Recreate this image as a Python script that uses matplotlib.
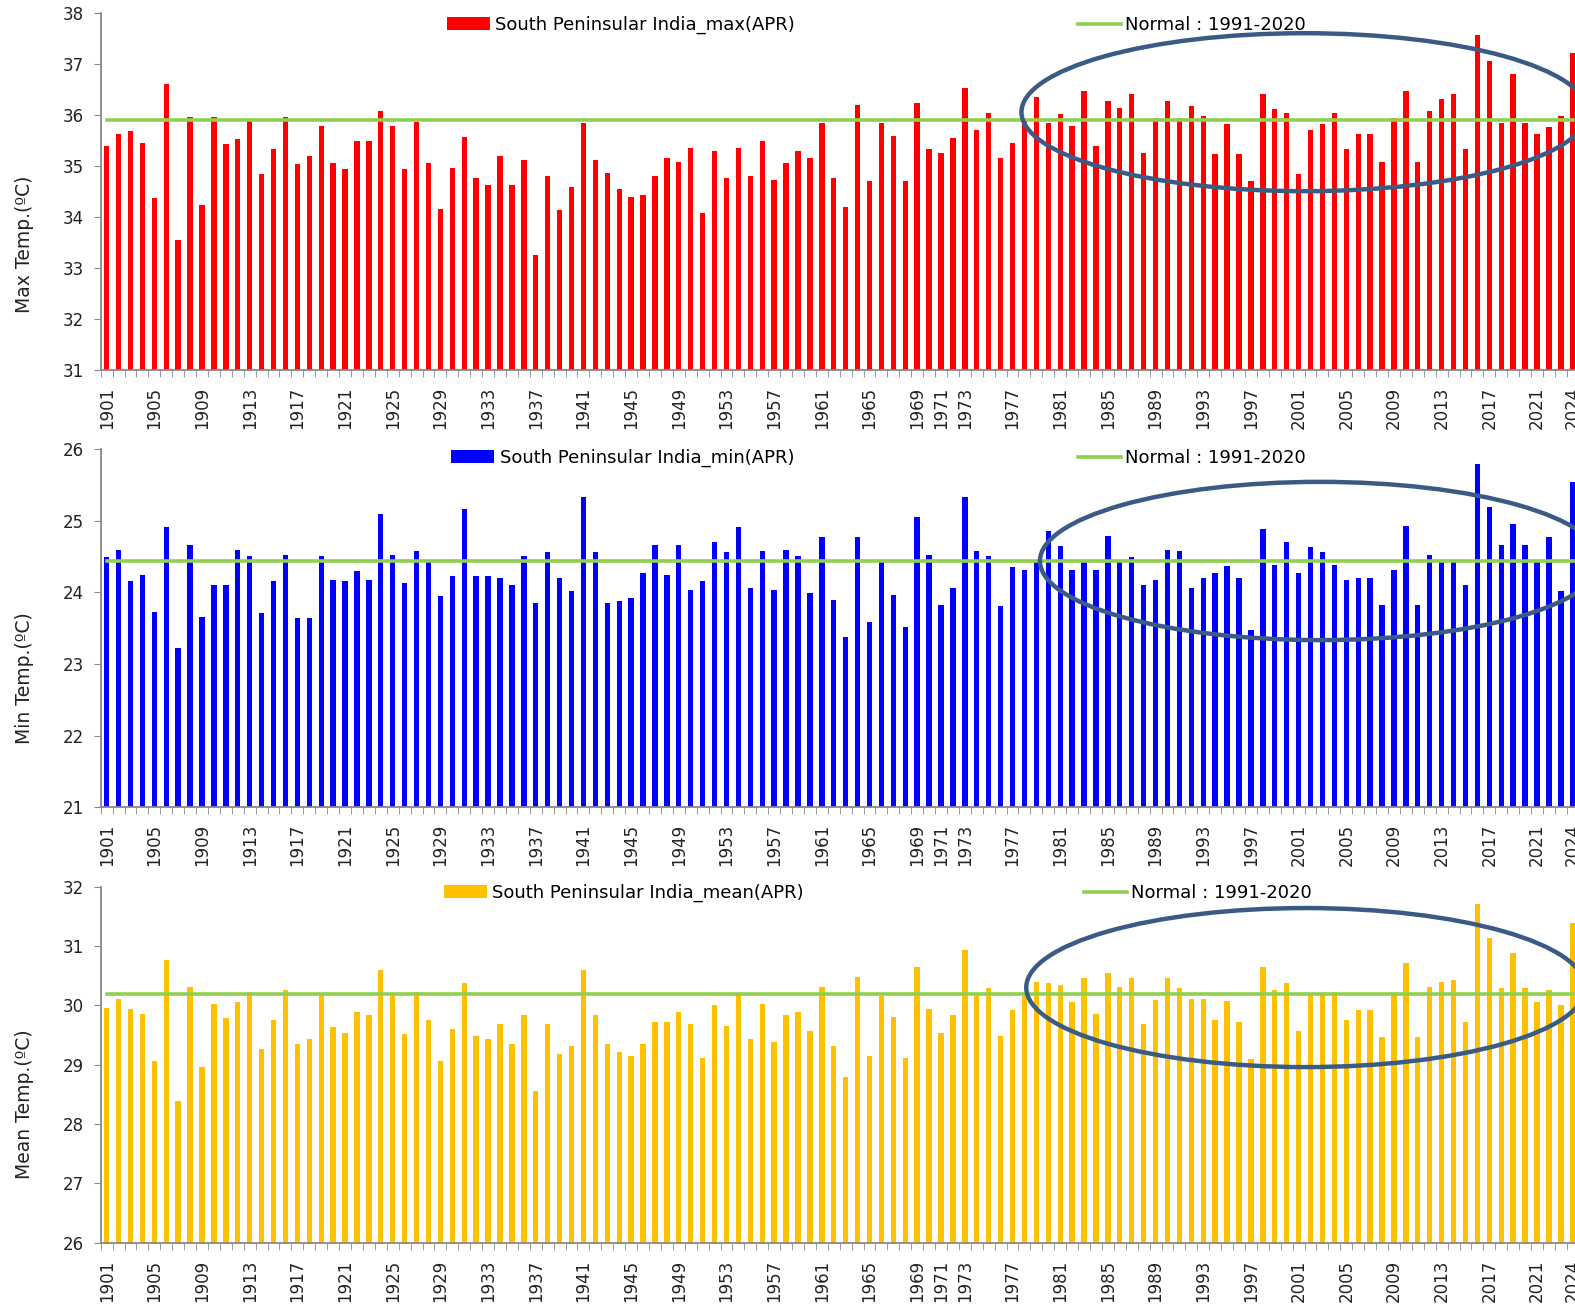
import numpy as np
import matplotlib.pyplot as plt
from matplotlib.patches import Ellipse

years = np.arange(1901, 2025)

max_temp = [35.40, 35.63, 35.69, 35.46, 34.37, 36.61, 33.55, 35.96, 34.24, 35.96,
            35.43, 35.53, 35.89, 34.84, 35.33, 35.96, 35.04, 35.20, 35.79, 35.07,
            34.94, 35.50, 35.50, 36.09, 35.79, 34.94, 35.87, 35.07, 34.17, 34.97,
            35.57, 34.76, 34.63, 35.20, 34.63, 35.12, 33.25, 34.80, 34.14, 34.60,
            35.85, 35.12, 34.86, 34.56, 34.40, 34.43, 34.80, 35.17, 35.09, 35.36,
            34.08, 35.30, 34.76, 35.36, 34.80, 35.50, 34.73, 35.07, 35.30, 35.17,
            35.85, 34.76, 34.20, 36.21, 34.70, 35.85, 35.59, 34.70, 36.25, 35.33,
            35.26, 35.56, 36.54, 35.72, 36.05, 35.17, 35.46, 35.90, 36.35, 35.85,
            36.02, 35.79, 36.47, 35.40, 36.28, 36.15, 36.41, 35.26, 35.95, 36.28,
            35.95, 36.18, 35.98, 35.23, 35.82, 35.23, 34.70, 36.41, 36.12, 36.05,
            34.84, 35.72, 35.82, 36.05, 35.33, 35.63, 35.63, 35.09, 35.95, 36.48,
            35.09, 36.08, 36.31, 36.41, 35.33, 37.57, 37.07, 35.85, 36.81, 35.85,
            35.63, 35.76, 35.98, 37.23]

min_temp = [24.49, 24.60, 24.16, 24.25, 23.73, 24.91, 23.22, 24.67, 23.66, 24.11,
            24.11, 24.60, 24.51, 23.71, 24.16, 24.53, 23.64, 23.64, 24.51, 24.18,
            24.16, 24.30, 24.18, 25.09, 24.53, 24.13, 24.58, 24.42, 23.95, 24.23,
            25.17, 24.23, 24.23, 24.20, 24.11, 24.51, 23.85, 24.56, 24.20, 24.02,
            25.33, 24.56, 23.85, 23.88, 23.92, 24.27, 24.67, 24.25, 24.67, 24.04,
            24.16, 24.70, 24.56, 24.91, 24.06, 24.58, 24.04, 24.60, 24.51, 23.99,
            24.77, 23.90, 23.38, 24.77, 23.59, 24.42, 23.97, 23.52, 25.05, 24.53,
            23.83, 24.06, 25.33, 24.58, 24.51, 23.81, 24.35, 24.32, 24.42, 24.86,
            24.65, 24.32, 24.42, 24.32, 24.79, 24.42, 24.49, 24.11, 24.18, 24.60,
            24.58, 24.06, 24.20, 24.27, 24.37, 24.20, 23.48, 24.88, 24.39, 24.70,
            24.27, 24.63, 24.56, 24.39, 24.18, 24.20, 24.20, 23.83, 24.32, 24.93,
            23.83, 24.53, 24.42, 24.42, 24.11, 25.80, 25.19, 24.67, 24.95, 24.67,
            24.42, 24.77, 24.02, 25.54]

mean_temp = [29.95, 30.11, 29.94, 29.86, 29.07, 30.76, 28.39, 30.31, 28.96, 30.03,
             29.78, 30.06, 30.23, 29.26, 29.75, 30.26, 29.35, 29.43, 30.17, 29.63,
             29.54, 29.89, 29.83, 30.60, 30.17, 29.52, 30.23, 29.75, 29.07, 29.60,
             30.37, 29.49, 29.43, 29.69, 29.35, 29.83, 28.56, 29.69, 29.18, 29.32,
             30.60, 29.83, 29.35, 29.21, 29.15, 29.35, 29.72, 29.72, 29.89, 29.69,
             29.12, 30.00, 29.66, 30.17, 29.43, 30.03, 29.38, 29.83, 29.89, 29.57,
             30.31, 29.32, 28.79, 30.48, 29.15, 30.15, 29.80, 29.12, 30.65, 29.94,
             29.54, 29.83, 30.94, 30.17, 30.29, 29.49, 29.92, 30.15, 30.40, 30.37,
             30.34, 30.06, 30.46, 29.86, 30.54, 30.31, 30.46, 29.69, 30.09, 30.46,
             30.29, 30.11, 30.11, 29.75, 30.08, 29.72, 29.10, 30.65, 30.26, 30.37,
             29.57, 30.17, 30.17, 30.23, 29.75, 29.92, 29.92, 29.46, 30.17, 30.71,
             29.46, 30.31, 30.40, 30.43, 29.72, 31.70, 31.13, 30.29, 30.88, 30.29,
             30.06, 30.26, 30.00, 31.39]

normal_max = 35.9
normal_min = 24.44
normal_mean = 30.19

tick_years = list(range(1901, 1970, 4)) + [1971] + list(range(1973, 2022, 4)) + [2024]

W, H = 1575, 1308
fig = plt.figure(figsize=(W / 100, H / 100), dpi=100)
plt.rcParams['font.family'] = ['DejaVu Sans']

ax_left = 100.7 / W
ax_width = 1478 / W

# values, colour, label, ylabel, normal, ylim, bottom, height, legend pos, ylabel y, ellipse
panels = [
    (max_temp, "#FF0000", "South Peninsular India_max(APR)", "Max Temp.(ºC)", normal_max,
     (31, 38), 0.7171, 0.2727, (0.234, 0.967, 0.661), 0.353, (2001.5, 36.06, 47.5, 3.10)),
    (min_temp, "#0000FF", "South Peninsular India_min(APR)", "Min Temp.(ºC)", normal_min,
     (21, 26), 0.3828, 0.2737, (0.237, 0.976, 0.661), 0.361, (2002.8, 24.44, 47.0, 2.21)),
    (mean_temp, "#FFC000", "South Peninsular India_mean(APR)", "Mean Temp.(ºC)", normal_mean,
     (26, 32), 0.0499, 0.2722, (0.232, 0.982, 0.665), 0.39, (2001.6, 30.30, 46.9, 2.68)),
]

for vals, color, label, ylabel, normal, ylim, bottom, height, legpos, laby, ell in panels:
    ax = fig.add_axes([ax_left, bottom, ax_width, height])
    bars = ax.bar(years, vals, width=0.45, color=color, label=label, zorder=2)
    line, = ax.plot(years, np.full(len(years), normal), color="#8FD14F", lw=2.6,
                    label="Normal : 1991-2020", zorder=3)

    ax.set_xlim(1900.5, 2024.5)
    ax.set_ylim(*ylim)
    ax.set_yticks(range(ylim[0], ylim[1] + 1))
    ax.set_xticks(tick_years)
    ax.set_xticklabels([str(y) for y in tick_years], rotation=90, fontsize=12, color="#222222")
    ax.set_xticks(np.arange(1900.5, 2025, 1), minor=True)
    ax.tick_params(axis="x", which="major", length=0, pad=12)
    ax.tick_params(axis="x", which="minor", length=5, color="#888888", direction="out")
    ax.tick_params(axis="y", length=5, color="#888888", labelsize=12, labelcolor="#222222", pad=7)

    for s in ["top", "right"]:
        ax.spines[s].set_visible(False)
    for s in ["left", "bottom"]:
        ax.spines[s].set_color("#888888")
        ax.spines[s].set_linewidth(1.3)

    ax.set_ylabel(ylabel, fontsize=13.5, color="#222222")
    ax.yaxis.set_label_coords(-0.045, laby)

    leg1 = ax.legend(handles=[bars], loc="center left", bbox_to_anchor=(legpos[0], legpos[1]),
                     frameon=False, fontsize=13, borderpad=0, borderaxespad=0,
                     handlelength=2.4, handletextpad=0.3)
    ax.add_artist(leg1)
    ax.legend(handles=[line], loc="center left", bbox_to_anchor=(legpos[2], legpos[1]),
              frameon=False, fontsize=13, borderpad=0, borderaxespad=0,
              handlelength=2.4, handletextpad=0.2)

    ax.add_patch(Ellipse((ell[0], ell[1]), ell[2], ell[3], fill=False,
                         edgecolor="#3B5B85", lw=3.2, zorder=5, clip_on=False))

fig.savefig("out.png", dpi=100)
